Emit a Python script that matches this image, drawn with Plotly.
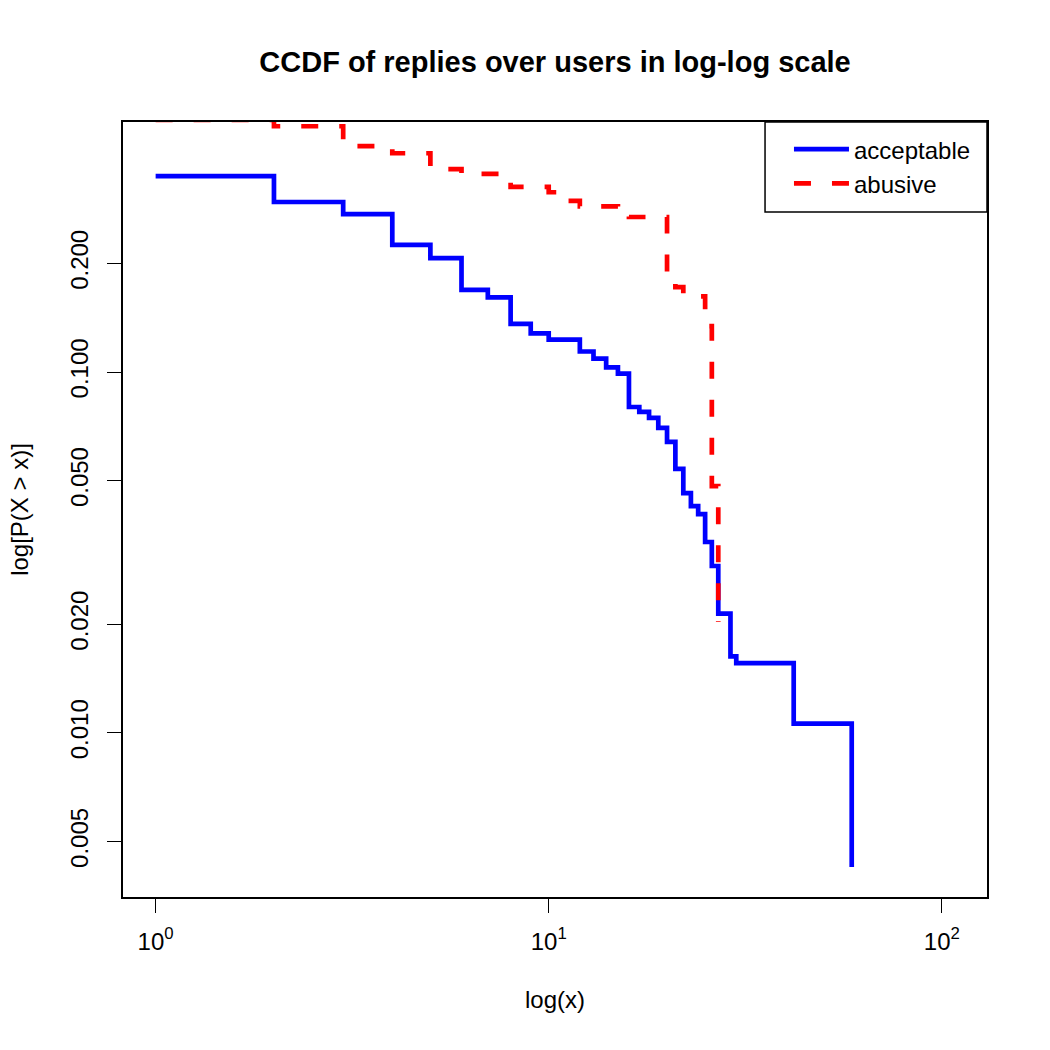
import plotly.graph_objects as go

# Data (CCDF values)
acceptable_x = [1, 2, 3, 4, 5, 6, 7, 8, 9, 10, 12, 13, 14, 15, 16, 17, 18, 19, 20,
                21, 22, 23, 24, 25, 26, 27, 29, 30, 42, 59]
acceptable_p = [0.349, 0.296, 0.274, 0.225, 0.207, 0.169, 0.161, 0.136, 0.128, 0.123,
                0.114, 0.109, 0.103, 0.099, 0.080, 0.0775, 0.0746, 0.070, 0.064,
                0.0539, 0.0462, 0.0425, 0.0404, 0.0338, 0.029, 0.0214, 0.0163,
                0.0156, 0.0106, 0.00425]

abusive_x = [1, 2, 3, 4, 5, 6, 8, 10, 11, 12, 15, 16, 20, 21, 22, 25, 26, 27]
abusive_p = [0.5, 0.48, 0.423, 0.404, 0.365, 0.354, 0.326, 0.315, 0.298, 0.288,
             0.281, 0.269, 0.182, 0.172, 0.162, 0.134, 0.0483, 0.0203]

x_tickvals = [1, 10, 100]
x_ticktext = ["10<sup>0</sup>", "10<sup>1</sup>", "10<sup>2</sup>"]
y_tickvals = [0.005, 0.01, 0.02, 0.05, 0.1, 0.2]
y_ticktext = ["0.005", "0.010", "0.020", "0.050", "0.100", "0.200"]

FONT = "Liberation Sans, Arial, Helvetica, sans-serif"

fig = go.Figure()
fig.add_trace(go.Scatter(
    x=acceptable_x, y=acceptable_p, mode="lines", name="acceptable",
    line=dict(color="#0000FF", width=4.7, shape="hv"),
))
fig.add_trace(go.Scatter(
    x=abusive_x, y=abusive_p, mode="lines", name="abusive",
    line=dict(color="#FF0000", width=4.7, shape="hv", dash="17px,21px"),
))

axis_common = dict(
    showgrid=False, zeroline=False, showline=True, linecolor="black",
    linewidth=1.5, mirror=True, ticks="outside", ticklen=14, tickwidth=1.2,
    tickcolor="black", tickfont=dict(family=FONT, size=24, color="black"),
)

fig.update_xaxes(
    type="log", range=[-0.083, 2.115], tickvals=x_tickvals, ticktext=x_ticktext,
    title=dict(text="log(x)", font=dict(family=FONT, size=24, color="black"),
               standoff=38),
    ticklabelstandoff=8, automargin=False, **axis_common,
)
fig.update_yaxes(
    type="log", range=[-2.455, -0.307], tickvals=y_tickvals, ticktext=y_ticktext,
    tickangle=-90,
    title=dict(text="log[P(X &gt; x)]", font=dict(family=FONT, size=24, color="black"),
               standoff=30),
    ticklabelstandoff=10, automargin=False, **axis_common,
)

# legend frame (as in the reference, flush with the plot's top-right corner)
fig.add_shape(type="rect", xref="paper", yref="paper",
              x0=0.7431, x1=1.0, y0=0.8839, y1=1.0,
              line=dict(color="black", width=1.5), fillcolor="white", layer="above")

fig.update_layout(
    width=1050, height=1050,
    margin=dict(l=123, r=63, t=122, b=153),
    paper_bgcolor="white", plot_bgcolor="white",
    title=dict(text="CCDF of replies over users in log-log scale",
               font=dict(family=FONT, size=29, color="black", weight="bold"),
               x=0.5286, xanchor="center", xref="container",
               y=1 - 62 / 1050, yanchor="middle", yref="container"),
    showlegend=True,
    legend=dict(
        x=0.7708, xanchor="left", y=0.9935, yanchor="top",
        borderwidth=0, bgcolor="rgba(0,0,0,0)",
        font=dict(family=FONT, size=24, color="black"),
        itemwidth=55, tracegroupgap=0,
    ),
)

fig.write_html("out.html")
